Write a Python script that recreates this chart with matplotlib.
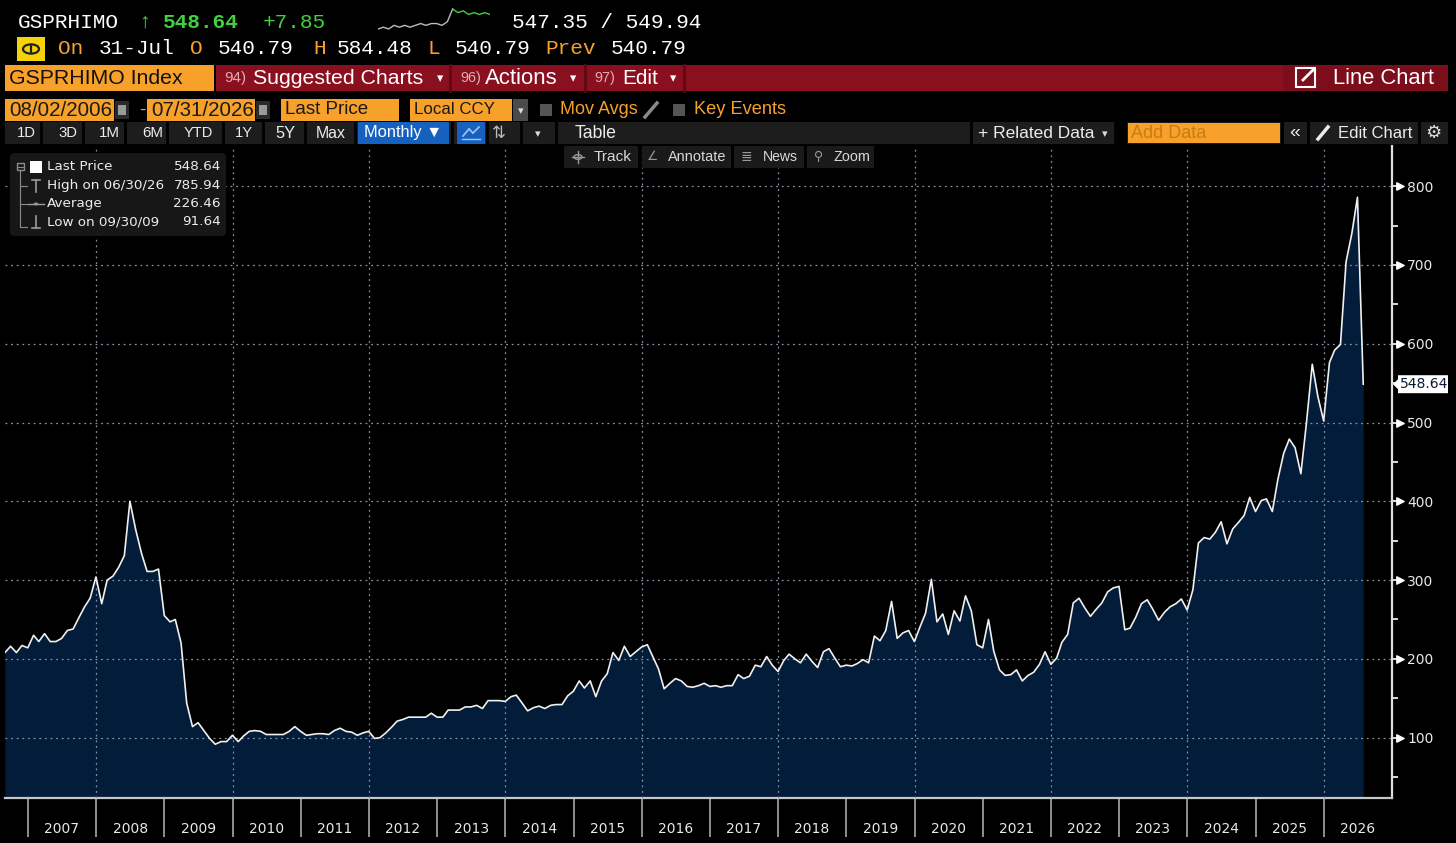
import numpy as np
import pandas as pd
import matplotlib
matplotlib.use("Agg")
import matplotlib.pyplot as plt
from matplotlib.patches import Rectangle, Polygon, FancyBboxPatch, Circle
from matplotlib.lines import Line2D

# monthly index levels, Aug 2006 .. Jul 2026
vals_2006 = [208, 216, 208, 217, 214]
vals_2007 = [230, 222, 232, 222, 222, 226, 236, 238, 252, 266, 277, 304]
vals_2008 = [270, 300, 305, 316, 331, 400, 364, 334, 311, 311, 314, 255]
vals_2009 = [247, 250, 220, 144, 114, 119, 109, 99, 91.64, 95, 95, 103]
vals_2010 = [95, 102, 108, 109, 108, 104, 104, 104, 104, 108, 114, 108]
vals_2011 = [103, 104, 105, 105, 104, 109, 112, 108, 107, 103, 106, 108]
vals_2012 = [99, 100, 106, 113, 121, 123, 126, 126, 126, 126, 131, 126]
vals_2013 = [126, 135, 135, 135, 139, 139, 141, 137, 147, 147, 147, 146]
vals_2014 = [152, 154, 144, 134, 138, 140, 137, 141, 142, 142, 153, 159]
vals_2015 = [172, 163, 172, 152, 172, 181, 208, 198, 216, 203, 209, 215]
vals_2016 = [218, 203, 187, 162, 169, 175, 172, 165, 164, 166, 169, 165]
vals_2017 = [166, 164, 166, 166, 180, 175, 178, 192, 190, 203, 192, 184]
vals_2018 = [198, 206, 200, 195, 206, 197, 189, 209, 213, 201, 190, 192]
vals_2019 = [191, 194, 199, 195, 229, 223, 236, 273, 226, 233, 236, 222]
vals_2020 = [241, 258, 301, 247, 257, 231, 261, 248, 280, 261, 218, 214]
vals_2021 = [250, 210, 186, 179, 180, 186, 172, 179, 183, 193, 209, 193]
vals_2022 = [201, 221, 231, 271, 277, 265, 254, 263, 271, 285, 290, 292]
vals_2023 = [237, 239, 253, 270, 275, 263, 249, 259, 266, 270, 276, 262]
vals_2024 = [288, 347, 354, 352, 361, 374, 346, 365, 373, 382, 405, 387]
vals_2025 = [401, 403, 387, 428, 461, 479, 468, 435, 500, 574, 533, 502]
vals_2026 = [576, 592, 599, 704, 740, 785.94, 548.64]

values = (vals_2006 + vals_2007 + vals_2008 + vals_2009 + vals_2010 + vals_2011
          + vals_2012 + vals_2013 + vals_2014 + vals_2015 + vals_2016 + vals_2017
          + vals_2018 + vals_2019 + vals_2020 + vals_2021 + vals_2022 + vals_2023
          + vals_2024 + vals_2025 + vals_2026)
dates = pd.date_range("2006-08-01", periods=len(values), freq="MS") + pd.offsets.MonthEnd(0)

years = list(range(2007, 2027))
y_ticks = [100, 200, 300, 400, 500, 600, 700, 800]

legend_rows = [("Last Price", "548.64"), ("High on 06/30/26", "785.94"),
               ("Average", "226.46"), ("Low on 09/30/09", "91.64")]
spark_vals = [3, 4, 3, 5, 4, 5, 4, 5, 6, 5, 6, 6, 5, 7, 14, 12, 13, 11, 12, 11, 12, 11]

W, H = 1456, 843
MONO = ["Liberation Mono", "DejaVu Sans Mono"]
UI = ["Liberation Sans", "DejaVu Sans"]
ORANGE = "#f7a12b"
GREEN = "#3fd13f"
NAVY = "#031c3a"

fig = plt.figure(figsize=(W / 100, H / 100), dpi=100, facecolor="black")
renderer = fig.canvas.get_renderer()


def fx(x):
    return x / W


def fy(y):
    return 1 - y / H


def rect(x0, y0, x1, y1, color, ec="none", lw=1.0):
    fig.patches.append(Rectangle((fx(x0), fy(y1)), (x1 - x0) / W, (y1 - y0) / H,
                                 transform=fig.transFigure, facecolor=color, edgecolor=ec, lw=lw))


def line(x0, y0, x1, y1, color, lw=1.0):
    fig.lines.append(Line2D([fx(x0), fx(x1)], [fy(y0), fy(y1)], transform=fig.transFigure,
                            color=color, lw=lw))


def label(x, y, s, color="white", size=12, ha="left", family=UI, weight="normal", width=None):
    t = fig.text(fx(x), fy(y), s, color=color, fontsize=size, ha=ha, va="center",
                 family=family, weight=weight)
    if width is not None:
        w = t.get_window_extent(renderer=renderer).width
        t.set_fontsize(size * width / w)
    return t


# ---- main chart
ax = fig.add_axes([fx(5), fy(798), (1392 - 5) / W, (798 - 146) / H])
ax.set_facecolor("black")
ax.set_xlim(pd.Timestamp("2006-08-31"), pd.Timestamp("2027-01-01"))
ax.set_ylim(23.4, 851)
ax.fill_between(dates, values, 0, color=NAVY, lw=0, zorder=2)
ax.plot(dates, values, color="#f0f0f0", lw=1.2, zorder=4)

for yr in years[1::2]:
    ax.axvline(pd.Timestamp(f"{yr}-01-01"), color="#8391a0", lw=0.9, ls=(0, (1.5, 3)), zorder=3)
for v in y_ticks:
    ax.axhline(v, color="#8391a0", lw=0.9, ls=(0, (1.5, 3)), zorder=3)

ax.set_xticks([pd.Timestamp(f"{yr}-01-01") for yr in years])
ax.set_xticklabels([])
ax.set_xticks([pd.Timestamp(f"{yr}-07-01") for yr in years], minor=True)
ax.set_xticklabels([str(yr) for yr in years], minor=True)
ax.tick_params(axis="x", which="major", length=28, width=1.2, color="#a8a8a8")
ax.tick_params(axis="x", which="minor", length=0, pad=17, labelsize=10, labelcolor="#e8e8e8")

ax.yaxis.tick_right()
ax.set_yticks(y_ticks)
ax.set_yticks(np.arange(50, 800, 100), minor=True)
ax.tick_params(axis="y", which="major", length=5, width=1.2, color="white", pad=6,
               labelsize=10, labelcolor="#e8e8e8")
ax.tick_params(axis="y", which="minor", length=4, width=1.2, color="white")
ax.scatter([1.006] * len(y_ticks), y_ticks, marker=">", s=28, color="white",
           transform=ax.get_yaxis_transform(), clip_on=False, zorder=5)

for side in ["left", "top"]:
    ax.spines[side].set_visible(False)
ax.spines["bottom"].set_color("#c8c8c8")
ax.spines["bottom"].set_linewidth(1.6)
ax.spines["right"].set_color("#e0e0e0")
ax.spines["right"].set_linewidth(1.6)

# last price flag on the right axis
last = values[-1]
y_last = H - ax.transData.transform((0, last))[1]
fig.patches.append(Polygon([(fx(1393), fy(y_last)), (fx(1398), fy(y_last - 5)),
                            (fx(1398), fy(y_last - 9)), (fx(1448), fy(y_last - 9)),
                            (fx(1448), fy(y_last + 9)), (fx(1398), fy(y_last + 9)),
                            (fx(1398), fy(y_last + 5))], closed=True,
                           transform=fig.transFigure, facecolor="white", edgecolor="none"))
label(1424, y_last, f"{last:.2f}", color="#0a1a30", size=10, ha="center", family="DejaVu Sans")

# legend box
fig.patches.append(FancyBboxPatch((fx(10), fy(236)), (226 - 10) / W, (236 - 153) / H,
                                  boxstyle="round,pad=0,rounding_size=0.004",
                                  transform=fig.transFigure, facecolor="#171717", edgecolor="none"))
line(20, 170, 20, 227, "#8a8a8a", 0.8)
rect(17, 163, 24, 170, "#171717", ec="#8a8a8a")
line(18, 166.5, 23, 166.5, "#8a8a8a", 0.8)
for yy in [186, 204, 227]:
    line(20, yy, 27, yy, "#8a8a8a", 0.8)
rect(30, 161, 42, 173, "white")
line(32, 180, 40, 180, "#9a9a9a", 1.2)
line(36, 180, 36, 192, "#9a9a9a", 1.2)
line(28, 204, 44, 204, "#9a9a9a", 1.0)
fig.patches.append(Circle((fx(36), fy(204)), 2.5 / W, transform=fig.transFigure,
                          facecolor="#9a9a9a", edgecolor="none"))
line(36, 216, 36, 228, "#9a9a9a", 1.2)
line(32, 228, 40, 228, "#9a9a9a", 1.2)
for i, (name, val) in enumerate(legend_rows):
    yy = 167 + i * 18.3
    label(47, yy, name, color="#ececec", size=9.7, family="DejaVu Sans")
    label(221, yy, val, color="#ececec", size=9.7, ha="right", family="DejaVu Sans")

# ---- header row 1
label(18, 22, "GSPRHIMO", size=15.2, family=MONO)
label(138, 22, "\u2191", color=GREEN, size=15.2, family=MONO)
label(163, 22, "548.64", color=GREEN, size=15.2, family=MONO, weight="bold")
label(263, 22, "+7.85", color=GREEN, size=15.2, family=MONO)
label(512, 22, "547.35 / 549.94", size=15.2, family=MONO)
sp = fig.add_axes([fx(378), fy(30), (490 - 378) / W, 22 / H])
sp.axis("off")
n_grey = 14
sp.plot(range(n_grey + 1), spark_vals[:n_grey + 1], color="#bdbdbd", lw=1)
sp.plot(range(n_grey, len(spark_vals)), spark_vals[n_grey:], color=GREEN, lw=1)
sp.set_xlim(0, len(spark_vals) - 1)

# header row 2
rect(17, 37, 45, 61, "#f5d20a")
fig.patches.append(Circle((fx(31), fy(49)), 8 / W, transform=fig.transFigure,
                          facecolor="none", edgecolor="#222222", lw=1.6))
line(31, 45, 31, 52, "#222222", 1.6)
for x, s, c in [(58, "On", ORANGE), (99, "31-Jul", "white"), (190, "O", ORANGE),
                (218, "540.79", "white"), (313, "H", ORANGE), (337, "584.48", "white"),
                (428, "L", ORANGE), (455, "540.79", "white"), (545, "Prev", ORANGE),
                (611, "540.79", "white")]:
    label(x, 49, s, color=c, size=15.2, family=MONO)

# header row 3
rect(5, 65, 214, 91, ORANGE)
label(9, 78, "GSPRHIMO Index", color="#111111", size=16, width=174)
rect(216, 65, 1448, 91, "#8a0f1f")
for x in [450, 585, 684]:
    line(x, 65, x, 91, "#5c0913", 2)
rect(1283, 65, 1448, 91, "#7c0d1b")
label(224, 78, "94)", color="#e0b0b0", size=12, width=22)
label(253, 78, "Suggested Charts", size=16, width=171)
label(437, 79, "\u25be", size=9)
label(460, 78, "96)", color="#e0b0b0", size=12, width=21)
label(485, 78, "Actions", size=16, width=73)
label(570, 79, "\u25be", size=9)
label(594, 78, "97)", color="#e0b0b0", size=12, width=21)
label(622, 78, "Edit", size=16, width=36)
label(670, 79, "\u25be", size=9)
rect(1296, 68, 1315, 87, "none", ec="white", lw=1.5)
line(1303, 80, 1313, 70, "white", 2)
label(1333, 78, "Line Chart", size=16, width=102)

# header row 4
for x0, x1, s, w in [(5, 114, "08/02/2006", 103), (147, 255, "07/31/2026", 103),
                     (281, 399, "Last Price", 84), (410, 512, "Local CCY", 81)]:
    rect(x0, 99, x1, 121, ORANGE)
    label(x0 + 4, 110, s, color="#1a1a1a", size=14, width=w)
for x0 in [115, 256]:
    rect(x0, 101, x0 + 14, 119, "#2a2a2a")
    rect(x0 + 3, 105, x0 + 11, 115, "#9a9a9a")
label(139, 110, "-", color=ORANGE, size=13.5)
rect(513, 99, 528, 121, "#4a4a4a")
label(520.5, 111, "\u25be", color="#dddddd", size=8, ha="center")
rect(540, 104, 552, 116, "#555555")
label(560, 110, "Mov Avgs", color=ORANGE, size=14, width=78)
line(645, 117, 657, 103, "#8a8a8a", 2.5)
rect(673, 104, 685, 116, "#555555")
label(694, 110, "Key Events", color=ORANGE, size=14, width=93)

# header row 5
rect(5, 122, 1448, 144, "#1d1d1d")
for x in [41, 83, 125, 167, 223, 263, 305, 355, 452, 487, 521, 556, 971, 1115, 1282, 1308, 1419]:
    line(x, 122, x, 144, "black", 2)
for x, s, w in [(17, "1D", 19), (58, "3D", 19), (99, "1M", 21), (142, "6M", 21),
                (184, "YTD", 29), (235, "1Y", 18), (275, "5Y", 20), (316, "Max", 30)]:
    label(x, 133, s, color="#ececec", size=13, width=w)
rect(358, 122, 449, 144, "#1660c0")
label(364, 133, "Monthly \u25bc", color="white", size=13, width=78)
rect(457, 122, 485, 144, "#1660c0")
line(462, 139, 480, 139, "#9fc5f5", 1)
line(463, 136, 469, 129, "#9fc5f5", 1.2)
line(469, 129, 473, 133, "#9fc5f5", 1.2)
line(473, 133, 479, 127, "#9fc5f5", 1.2)
label(499, 133, "\u21c5", color="#bbbbbb", size=12, ha="center", family="DejaVu Sans")
label(538, 134, "\u25be", color="#dddddd", size=8, ha="center")
label(575, 133, "Table", color="#ececec", size=13, width=42)
rect(1116, 122, 1127, 144, "black")
label(978, 133, "+ Related Data", color="#ececec", size=13, width=116)
label(1105, 134, "\u25be", color="#dddddd", size=8, ha="center")
rect(1128, 123, 1280, 143, ORANGE)
label(1131, 133, "Add Data", color="#c77c14", size=13, width=75)
label(1295, 133, "\u00ab", color="#ececec", size=14, ha="center")
line(1318, 139, 1328, 127, "#ececec", 2.5)
label(1338, 133, "Edit Chart", color="#ececec", size=13, width=74)
label(1433, 133, "\u2699", color="#dddddd", size=13, ha="center", family="DejaVu Sans")

# header row 6
for x0, x1 in [(564, 638), (642, 731), (734, 804), (807, 874)]:
    rect(x0, 146, x1, 168, "#1a1a1a")
# crosshair icon for Track (no installed font has the glyph)
fig.patches.append(Circle((fx(578), fy(157)), 4 / W, transform=fig.transFigure,
                          facecolor="none", edgecolor="#999999", lw=1))
line(572, 157, 584, 157, "#999999", 1)
line(578, 151, 578, 163, "#999999", 1)
label(594, 157, "Track", color="#d8d8d8", size=12, width=38)
label(653, 157, "\u2220", color="#999999", size=9, ha="center", family="DejaVu Sans")
label(668, 157, "Annotate", color="#d8d8d8", size=12, width=58)
label(746, 157, "\u2263", color="#999999", size=10, ha="center", family="DejaVu Sans")
label(763, 157, "News", color="#d8d8d8", size=12, width=35)
label(819, 157, "\u26b2", color="#999999", size=9, ha="center", family="DejaVu Sans")
label(834, 157, "Zoom", color="#d8d8d8", size=12, width=37)

fig.savefig("out.png", dpi=100, facecolor="black")
